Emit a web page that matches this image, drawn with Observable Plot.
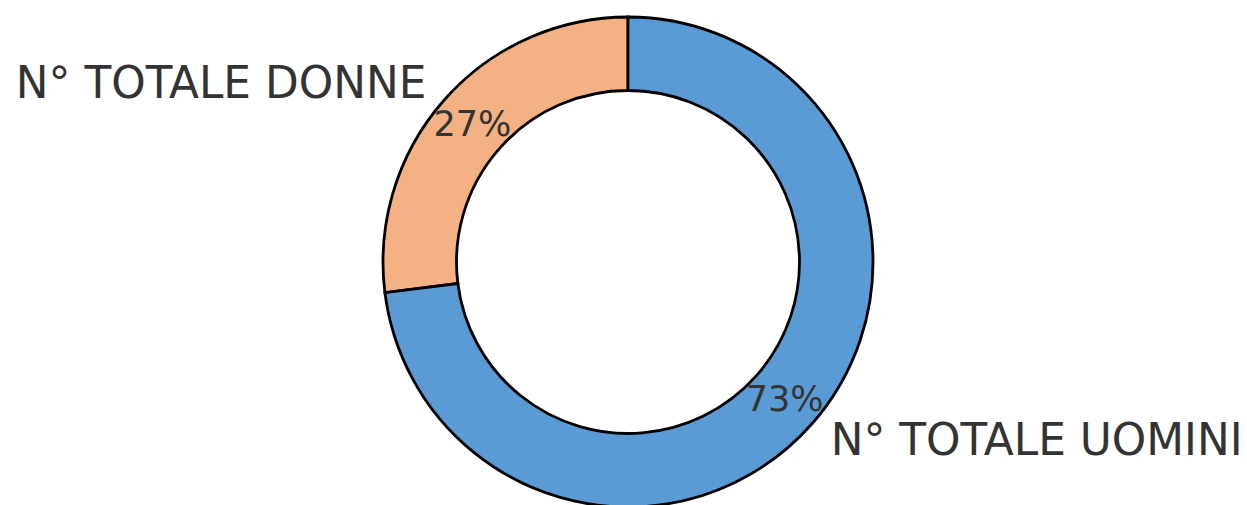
<!DOCTYPE html>
<html>
<head>
<meta charset="utf-8">
<script src="https://cdn.jsdelivr.net/npm/d3@7"></script>
<script src="https://cdn.jsdelivr.net/npm/@observablehq/plot@0.6"></script>
<style>
  html, body { margin: 0; padding: 0; background: #fff; }
  #chart { width: 1247px; height: 505px; overflow: hidden; }
</style>
</head>
<body>
<div id="chart"></div>
<script>
const categories = ["N° TOTALE DONNE", "N° TOTALE UOMINI"];
const values = [27, 73];
const colors = ["#F4B183", "#5B9BD5"];

const total = d3.sum(values);
// matplotlib-style: start at 12 o'clock, counterclockwise
let acc = 0;
const slices = categories.map((c, i) => {
  const a0 = 90 + (acc / total) * 360;
  acc += values[i];
  const a1 = 90 + (acc / total) * 360;
  const mid = (a0 + a1) / 2 * Math.PI / 180;
  return {
    category: c, value: values[i], color: colors[i],
    a0, a1,
    lx: 1.1 * Math.cos(mid), ly: 1.1 * Math.sin(mid),
    px: 0.85 * Math.cos(mid), py: 0.85 * Math.sin(mid),
    left: Math.cos(mid) < 0,
    pct: Math.round(values[i] / total * 100) + "%"
  };
});

const W = 1247, H = 505, R = 245, CX = 628, CY = 262;

const donut = (index, scales) => {
  const cx = scales.x(0), cy = scales.y(0);
  const r = scales.x(1) - scales.x(0);
  const g = d3.create("svg:g").attr("transform", `translate(${cx},${cy})`);
  const arc = d3.arc().innerRadius(r * 0.7).outerRadius(r);
  for (const s of slices) {
    const d3a0 = (90 - s.a1) * Math.PI / 180;
    const d3a1 = (90 - s.a0) * Math.PI / 180;
    g.append("path")
      .attr("d", arc({startAngle: d3a0, endAngle: d3a1}))
      .attr("fill", s.color)
      .attr("stroke", "#000")
      .attr("stroke-width", 2.8)
      .attr("stroke-linejoin", "miter");
  }
  return g.node();
};

const chart = Plot.plot({
  width: W,
  height: H,
  margin: 0,
  x: {domain: [-CX / R, (W - CX) / R], axis: null},
  y: {domain: [-(H - CY) / R, CY / R], axis: null},
  style: {fontFamily: "DejaVu Sans, sans-serif", background: "#fff"},
  marks: [
    donut,
    Plot.text(slices, {
      x: "px", y: "py", text: "pct",
      fontSize: 35, fill: "#333", textAnchor: "middle"
    }),
    Plot.text(slices.filter(d => d.left), {
      x: "lx", y: "ly", text: "category",
      fontSize: 43.8, fill: "#333", textAnchor: "end"
    }),
    Plot.text(slices.filter(d => !d.left), {
      x: "lx", y: "ly", text: "category",
      fontSize: 43.8, fill: "#333", textAnchor: "start"
    })
  ]
});
document.getElementById("chart").appendChild(chart);
</script>
</body>
</html>
